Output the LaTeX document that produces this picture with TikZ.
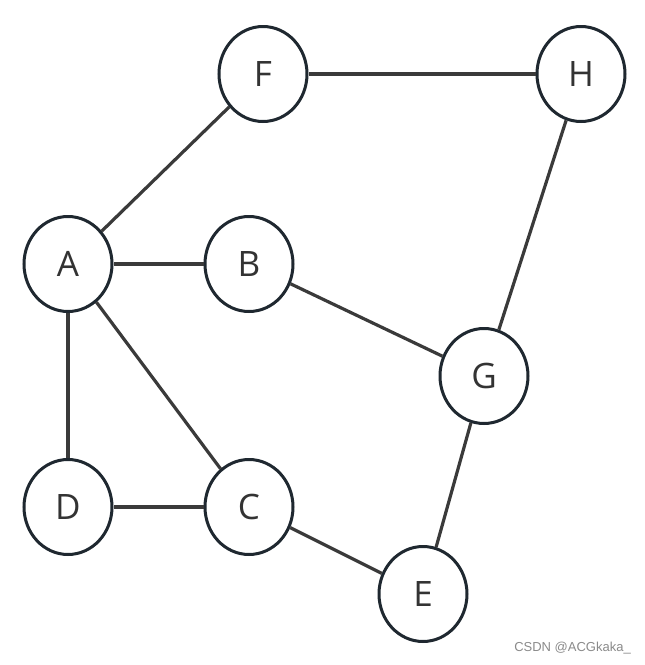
\documentclass[tikz,border=0pt]{standalone}
\usepackage{fontspec}
\setmainfont{Open Sans}
\newfontfamily\wmfont{Liberation Sans}
\usetikzlibrary{shapes.geometric}
\definecolor{nodeline}{HTML}{1F2830}
\definecolor{edgeline}{HTML}{3A3A3A}
\definecolor{txt}{HTML}{333333}
\definecolor{wm}{HTML}{8A8A8A}
\begin{document}
\begin{tikzpicture}[x=1pt,y=-1pt,
  vert/.style={ellipse,draw=nodeline,line width=3pt,minimum width=88pt,minimum height=95pt,inner sep=0pt,font=\fontsize{35}{40}\selectfont,text=txt,fill=white},
  edge/.style={draw=edgeline,line width=3.2pt}]
\useasboundingbox (0,0) rectangle (645,665);
\node[vert] (F) at (263,74) {F};
\node[vert] (H) at (581,74) {H};
\node[vert] (A) at (68,264) {A};
\node[vert] (B) at (249,264) {B};
\node[vert] (G) at (484,376) {G};
\node[vert] (D) at (68,507) {D};
\node[vert] (C) at (249,507) {C};
\node[vert] (E) at (423,594) {E};
\draw[edge] (F) -- (H);
\draw[edge] (F) -- (A);
\draw[edge] (A) -- (B);
\draw[edge] (A) -- (C);
\draw[edge] (A) -- (D);
\draw[edge] (B) -- (G);
\draw[edge] (H) -- (G);
\draw[edge] (G) -- (E);
\draw[edge] (D) -- (C);
\draw[edge] (C) -- (E);
\node[anchor=east,text=wm,font=\fontsize{13}{15}\selectfont\wmfont,inner sep=0pt] (wm) at (631,648) {CSDN @ACGkaka\_};
\end{tikzpicture}
\end{document}
